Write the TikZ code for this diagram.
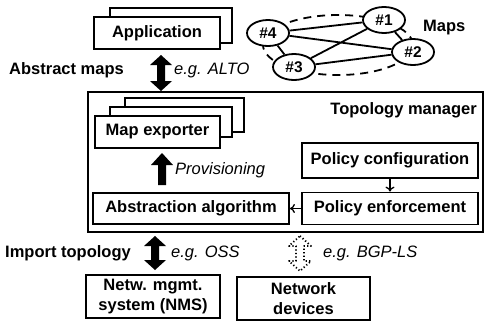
\documentclass[tikz,border=0pt]{standalone}
\usepackage{fontspec}
\setmainfont{Liberation Sans}
\usetikzlibrary{shapes.geometric,arrows.meta}
\newcommand\thickdbl[3]{%
  \fill (#1,#2) -- ({#1+11},{#2+10}) -- ({#1+4},{#2+10}) -- ({#1+4},{#3-10}) -- ({#1+11},{#3-10}) -- (#1,#3)
   -- ({#1-11},{#3-10}) -- ({#1-4},{#3-10}) -- ({#1-4},{#2+10}) -- ({#1-11},{#2+10}) -- cycle;}
\begin{document}
\begin{tikzpicture}[x=1pt,y=-1pt,
  lw/.style={line width=1.8pt},
  box/.style={draw,lw,fill=white,font=\fontsize{16.5}{20}\selectfont\bfseries,inner sep=0pt,align=center},
  backbox/.style={draw,lw,fill=white},
  lbl/.style={font=\fontsize{16.5}{20}\selectfont\bfseries,inner sep=0pt},
  ital/.style={font=\fontsize{16.5}{20}\selectfont\itshape,inner sep=0pt},
  mapnode/.style={draw,lw,ellipse,fill=white,minimum width=42pt,minimum height=26pt,inner sep=0pt,font=\fontsize{15.5}{18}\selectfont\bfseries},
  small/.style={-{To[length=5pt,width=9pt]},line width=1.3pt},
]
\useasboundingbox (0,0) rectangle (485,325);

% Application stack
\draw[backbox] (110,8) rectangle (232,43);
\node[box,minimum width=126pt,minimum height=32pt] (app) at (157,33) {Application};

% Maps graph
\draw[lw,dash pattern=on 8pt off 6pt] (338,45) ellipse [x radius=75, y radius=30];
\node[mapnode] (n1) at (384,20) {\#1};
\node[mapnode] (n4) at (268,33) {\#4};
\node[mapnode] (n2) at (413,52) {\#2};
\node[mapnode] (n3) at (294,67) {\#3};
\draw[lw] (n4) -- (n1) (n4) -- (n2) (n3) -- (n1) (n3) -- (n2) (n4) -- (n3) (n1) -- (n2);
\node[lbl,anchor=west] (maps) at (423,28) {Maps};

% Abstract maps
\node[lbl,anchor=west] (am) at (9,70) {Abstract maps};
\thickdbl{161}{55}{91}
\node[ital,anchor=west] (alto) at (174,70) {e.g. ALTO};

% Topology manager
\node[draw,lw,minimum width=395pt,minimum height=140pt,inner sep=0pt] (tm) at (285.5,162) {};
\node[lbl,anchor=east] (tml) at (477,110) {Topology manager};

% Map exporter stack
\draw[backbox] (125,98) rectangle (244,132);
\draw[backbox] (110,107) rectangle (232,137);
\node[box,minimum width=125pt,minimum height=32pt] (me) at (157.5,132) {Map exporter};

% Provisioning
\fill (162,153) -- (173,165) -- (166,165) -- (166,185) -- (158,185) -- (158,165) -- (151,165) -- cycle;
\node[ital,anchor=west] (prov) at (175,170) {Provisioning};

% Policy boxes
\node[box,minimum width=176pt,minimum height=35pt] (pc) at (390,160.5) {Policy configuration};
\node[box,minimum width=176pt,minimum height=32pt] (pe) at (390,208.5) {Policy enforcement};
\node[box,minimum width=196pt,minimum height=31pt] (aa) at (191,208.5) {Abstraction algorithm};
\draw[small] (pc) -- (pe);
\draw[small] (pe) -- (aa);

% Import topology
\node[lbl,anchor=west] (imp) at (5,253) {Import topology};
\thickdbl{155}{236}{270}
\node[ital,anchor=west] (oss) at (171,253) {e.g. OSS};
\draw[line width=1.8pt,dash pattern=on 1.2pt off 2.3pt,line join=round]
  (300,236) -- (311,246) -- (304,246) -- (304,261) -- (311,261) -- (300,271)
  -- (289,261) -- (296,261) -- (296,246) -- (289,246) -- cycle;
\node[ital,anchor=west] (bgp) at (323,253) {e.g. BGP-LS};

% Bottom boxes
\node[box,minimum width=134pt,minimum height=43pt] (nms) at (153,296.5) {Netw. mgmt.\\system (NMS)};
\node[box,minimum width=133pt,minimum height=43pt] (nd) at (303.5,298.5) {Network\\devices};
\end{tikzpicture}
\end{document}
